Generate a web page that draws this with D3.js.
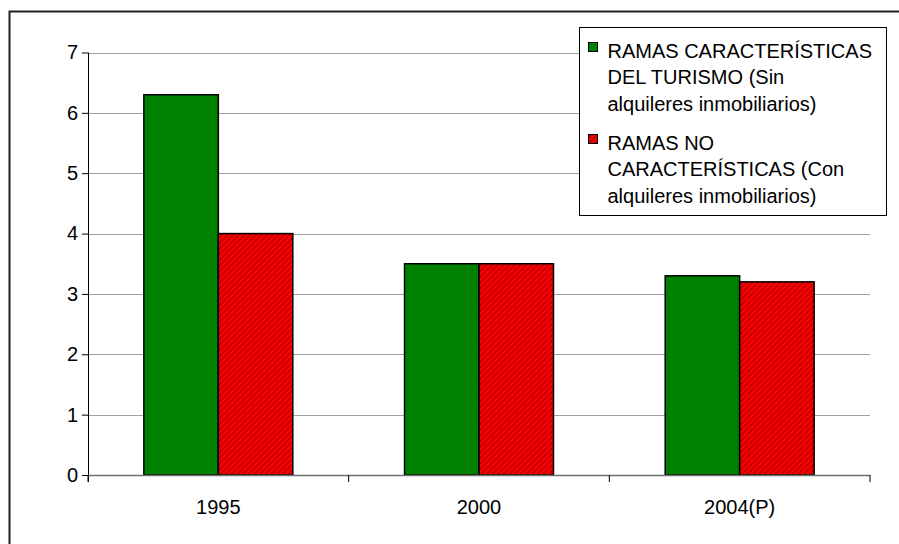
<!DOCTYPE html>
<html>
<head>
<meta charset="utf-8">
<script src="https://cdn.jsdelivr.net/npm/d3@7"></script>
<style>
  body { margin: 0; background: #fff; }
  svg { display: block; font-family: Arial, "Liberation Sans", sans-serif; }
</style>
</head>
<body>
<div id="chart"></div>
<script>
var width = 899;
var height = 544;
var margin = { left: 88, right: 29, top: 52.5, bottom: 69 };

var years = ["1995", "2000", "2004(P)"];
var turismo = [6.3, 3.5, 3.3];
var noCaract = [4.0, 3.5, 3.2];
var yTicks = [0, 1, 2, 3, 4, 5, 6, 7];
var legendLines1 = ["RAMAS CARACTERÍSTICAS", "DEL TURISMO (Sin", "alquileres inmobiliarios)"];
var legendLines2 = ["RAMAS NO", "CARACTERÍSTICAS (Con", "alquileres inmobiliarios)"];

var svg = d3.select("#chart")
    .append("svg")
    .attr("width", width)
    .attr("height", height);

// pattern for the red series
var defs = svg.append("defs");
var pat = defs.append("pattern")
    .attr("id", "hatch")
    .attr("patternUnits", "userSpaceOnUse")
    .attr("width", 4)
    .attr("height", 4)
    .attr("patternTransform", "rotate(45)");
pat.append("rect").attr("width", 4).attr("height", 4).attr("fill", "#ff0000");
pat.append("rect").attr("x", 0).attr("width", 1.6).attr("height", 4).attr("fill", "#b80000");

// outer chart frame (cut by the window)
svg.append("rect")
    .attr("x", 9.5)
    .attr("y", 11.5)
    .attr("width", 1000)
    .attr("height", 1000)
    .attr("fill", "none")
    .attr("stroke", "#222")
    .attr("stroke-width", 2);

// title remainder above frame (clipped in the source too)
svg.append("text")
    .attr("x", 462)
    .attr("y", -3)
    .attr("text-anchor", "middle")
    .attr("font-size", "16px")
    .text("(Tasa media anual)");

var x = d3.scaleBand()
    .domain(years)
    .range([margin.left, width - margin.right])
    .paddingInner(0)
    .paddingOuter(0);

var inner = d3.scaleBand()
    .domain(["a", "b"])
    .range([0, x.bandwidth()])
    .paddingOuter(0.75)
    .paddingInner(0);

var y = d3.scaleLinear()
    .domain([0, 7])
    .range([height - margin.bottom, margin.top]);

// gridlines
svg.append("g")
    .selectAll("line")
    .data(yTicks.filter(function (d) { return d > 0; }))
    .enter()
    .append("line")
    .attr("x1", margin.left)
    .attr("x2", width - margin.right)
    .attr("y1", function (d) { return Math.round(y(d)) + 0.5; })
    .attr("y2", function (d) { return Math.round(y(d)) + 0.5; })
    .attr("stroke", "#a0a0a0")
    .attr("stroke-width", 1);

// bars
var groups = svg.append("g")
    .selectAll("g")
    .data(years)
    .enter()
    .append("g")
    .attr("transform", function (d) { return "translate(" + x(d) + ",0)"; });

groups.append("rect")
    .attr("x", inner("a"))
    .attr("y", function (d, i) { return y(turismo[i]); })
    .attr("width", inner.bandwidth())
    .attr("height", function (d, i) { return y(0) - y(turismo[i]); })
    .attr("fill", "#008000")
    .attr("stroke", "#000")
    .attr("stroke-width", 1.5);

groups.append("rect")
    .attr("x", inner("b"))
    .attr("y", function (d, i) { return y(noCaract[i]); })
    .attr("width", inner.bandwidth())
    .attr("height", function (d, i) { return y(0) - y(noCaract[i]); })
    .attr("fill", "url(#hatch)")
    .attr("stroke", "#000")
    .attr("stroke-width", 1.5);

// y axis
var yAxis = svg.append("g")
    .attr("transform", "translate(" + margin.left + ",0)")
    .call(d3.axisLeft(y).tickValues(yTicks).tickSize(6).tickPadding(4).tickFormat(d3.format("d")));
yAxis.attr("font-size", null).attr("font-family", null);
yAxis.select(".domain").attr("stroke", "#000").attr("d", "M0.5," + y(7) + "V" + (y(0) + 7));
yAxis.selectAll(".tick line").attr("stroke", "#000");
yAxis.selectAll(".tick text")
    .style("font-size", "20px")
    .attr("fill", "#000");

// x axis
var xAxis = svg.append("g")
    .attr("transform", "translate(0," + y(0) + ")");
xAxis.append("line")
    .attr("x1", margin.left)
    .attr("x2", width - margin.right)
    .attr("y1", 0.5)
    .attr("y2", 0.5)
    .attr("stroke", "#707070")
    .attr("stroke-width", 1.5);
xAxis.selectAll("line.sep")
    .data(years.concat(["end"]))
    .enter()
    .append("line")
    .attr("class", "sep")
    .attr("x1", function (d) { return d === "end" ? width - margin.right : x(d); })
    .attr("x2", function (d) { return d === "end" ? width - margin.right : x(d); })
    .attr("y1", 0)
    .attr("y2", 7)
    .attr("stroke", "#000");
xAxis.selectAll("text")
    .data(years)
    .enter()
    .append("text")
    .attr("x", function (d) { return x(d) + x.bandwidth() / 2; })
    .attr("y", 39)
    .attr("text-anchor", "middle")
    .style("font-size", "20px")
    .text(function (d) { return d; });

// legend
var legend = svg.append("g").attr("transform", "translate(579.5,27.5)");
legend.append("rect")
    .attr("width", 307)
    .attr("height", 188)
    .attr("fill", "#fff")
    .attr("stroke", "#000")
    .attr("stroke-width", 1);

var entries = [
    { lines: legendLines1, fill: "#008000", top: 15 },
    { lines: legendLines2, fill: "url(#hatch)", top: 107 }
];
var ent = legend.selectAll("g.entry")
    .data(entries)
    .enter()
    .append("g")
    .attr("class", "entry")
    .attr("transform", function (d) { return "translate(0," + d.top + ")"; });
ent.append("rect")
    .attr("x", 9)
    .attr("y", 0)
    .attr("width", 9)
    .attr("height", 9)
    .attr("fill", function (d) { return d.fill; })
    .attr("stroke", "#000")
    .attr("stroke-width", 1);
ent.selectAll("text")
    .data(function (d) { return d.lines; })
    .enter()
    .append("text")
    .attr("x", 28)
    .attr("y", function (d, i) { return 15 + i * 26.5; })
    .style("font-size", "20px")
    .text(function (d) { return d; });
</script>
</body>
</html>
